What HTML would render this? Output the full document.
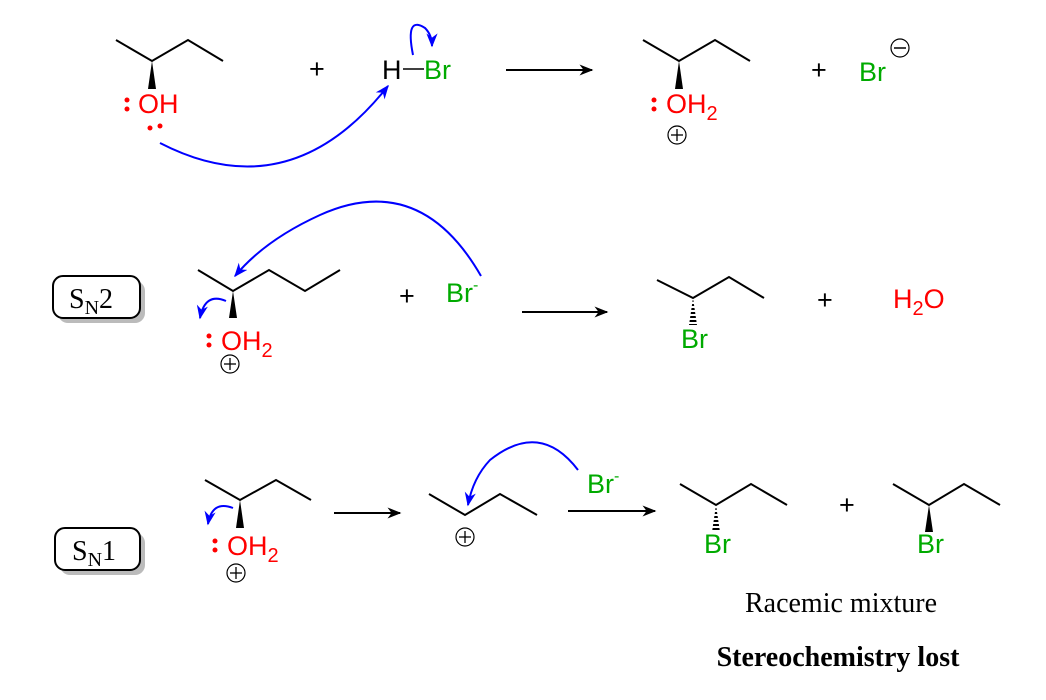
<!DOCTYPE html>
<html><head><meta charset="utf-8"><style>
body{margin:0;background:#fff}
svg{display:block}
.s{font-family:"Liberation Sans",sans-serif;font-size:27px}
.r{fill:#f00}.g{fill:#0a0}
.b{stroke:#000;stroke-width:2;fill:none}
.bl{stroke:#00f;stroke-width:2;fill:none}
.t{font-family:"Liberation Serif",serif;font-size:28px}
.sub{font-size:20px}
</style></head><body>
<svg width="1046" height="700" viewBox="0 0 1046 700">
<defs>
<marker id="a" viewBox="0 0 10 10" refX="9" refY="5" markerWidth="7" markerHeight="7" orient="auto"><path d="M0,1 L10,5 L0,9 L3,5z" fill="#000"/></marker>
<marker id="bb" viewBox="0 0 10 10" refX="9" refY="5" markerWidth="7" markerHeight="7" orient="auto"><path d="M0,1 L10,5 L0,9 L3,5z" fill="#00f"/></marker>
<pattern id="h" width="2" height="4" patternUnits="userSpaceOnUse"><rect width="2" height="2" fill="#000"/></pattern>
</defs>
<!-- Row 1 -->
<polyline class="b" points="116,40 152,61 188,40 223,61"/>
<polygon points="152,61 148,89 156,89" fill="#000"/>
<circle cx="127" cy="100" r="2.5" fill="#f00"/><circle cx="127" cy="109" r="2.5" fill="#f00"/>
<text class="s r" x="138" y="113">OH</text>
<circle cx="150" cy="128" r="2.5" fill="#f00"/><circle cx="160" cy="126" r="2.5" fill="#f00"/>
<text class="s" x="309" y="78">+</text>
<text class="s" x="382" y="79">H</text><line class="b" x1="403" y1="69" x2="424" y2="69" style="stroke-width:1.5"/><text class="s g" x="424" y="79">Br</text>
<line class="b" x1="506" y1="70" x2="592" y2="70" marker-end="url(#a)"/>
<path class="bl" d="M160,143 Q290,210 388,86" marker-end="url(#bb)"/>
<path class="bl" d="M413,55 Q405,15 425,28 Q432,35 432,46" marker-end="url(#bb)"/>
<polyline class="b" points="643,40 679,61 715,40 750,61"/>
<polygon points="679,61 675,89 683,89" fill="#000"/>
<circle cx="654" cy="100" r="2.5" fill="#f00"/><circle cx="654" cy="109" r="2.5" fill="#f00"/>
<text class="s r" x="666" y="113">OH<tspan dy="7" class="sub">2</tspan></text>
<circle cx="677" cy="135" r="9" class="b" style="stroke-width:1.2"/><line x1="671" y1="135" x2="683" y2="135" stroke="#000" stroke-width="1.3"/><line x1="677" y1="129" x2="677" y2="141" stroke="#000" stroke-width="1.3"/>
<text class="s" x="811" y="79">+</text>
<text class="s g" x="859" y="81">Br</text>
<circle cx="900" cy="48" r="9" class="b" style="stroke-width:1.2"/><line x1="894" y1="48" x2="906" y2="48" stroke="#000" stroke-width="1.5"/>
<!-- Row 2 -->
<rect x="58" y="281" width="87" height="42" rx="10" fill="#bbb"/>
<rect x="53" y="276" width="87" height="42" rx="10" fill="#fff" stroke="#000" stroke-width="2"/>
<text class="t" x="69" y="308">S<tspan dy="6" style="font-size:20px">N</tspan><tspan dy="-6">2</tspan></text>
<polyline class="b" points="198,270 233,291 269,270 305,291 340,270"/>
<polygon points="233,291 229,318 237,318" fill="#000"/>
<circle cx="209" cy="336" r="2.5" fill="#f00"/><circle cx="209" cy="345" r="2.5" fill="#f00"/>
<text class="s r" x="221" y="350">OH<tspan dy="7" class="sub">2</tspan></text>
<circle cx="230" cy="364" r="9" class="b" style="stroke-width:1.2"/><line x1="224" y1="364" x2="236" y2="364" stroke="#000" stroke-width="1.3"/><line x1="230" y1="358" x2="230" y2="370" stroke="#000" stroke-width="1.3"/>
<text class="s" x="399" y="305">+</text>
<text class="s g" x="446" y="302">Br<tspan dy="-12" style="font-size:16px">-</tspan></text>
<path class="bl" d="M481,276 Q420,170 320,215 Q265,240 235,276" marker-end="url(#bb)"/>
<path class="bl" d="M226,301 Q205,292 200,318" marker-end="url(#bb)"/>
<line class="b" x1="522" y1="312" x2="607" y2="312" marker-end="url(#a)"/>
<polyline class="b" points="657,280 693,298 729,277 764,298"/>
<polygon points="693,298 689,325 697,325" fill="url(#h)"/>
<text class="s g" x="681" y="348">Br</text>
<text class="s" x="817" y="309">+</text>
<text class="s r" x="893" y="308">H<tspan dy="7" class="sub">2</tspan><tspan dy="-7">O</tspan></text>
<!-- Row 3 -->
<rect x="60" y="533" width="85" height="42" rx="10" fill="#bbb"/>
<rect x="55" y="528" width="85" height="42" rx="10" fill="#fff" stroke="#000" stroke-width="2"/>
<text class="t" x="72" y="560">S<tspan dy="6" style="font-size:20px">N</tspan><tspan dy="-6">1</tspan></text>
<polyline class="b" points="205,480 240,500 276,480 311,500"/>
<polygon points="240,500 236,528 244,528" fill="#000"/>
<circle cx="215" cy="541" r="2.5" fill="#f00"/><circle cx="215" cy="550" r="2.5" fill="#f00"/>
<text class="s r" x="227" y="555">OH<tspan dy="7" class="sub">2</tspan></text>
<circle cx="236" cy="573" r="9" class="b" style="stroke-width:1.2"/><line x1="230" y1="573" x2="242" y2="573" stroke="#000" stroke-width="1.3"/><line x1="236" y1="567" x2="236" y2="579" stroke="#000" stroke-width="1.3"/>
<path class="bl" d="M233,508 Q212,500 208,524" marker-end="url(#bb)"/>
<line class="b" x1="334" y1="513" x2="400" y2="513" marker-end="url(#a)"/>
<polyline class="b" points="429,494 465,515 500,494 537,515"/>
<circle cx="465" cy="537" r="9" class="b" style="stroke-width:1.2"/><line x1="459" y1="537" x2="471" y2="537" stroke="#000" stroke-width="1.3"/><line x1="465" y1="531" x2="465" y2="543" stroke="#000" stroke-width="1.3"/>
<path class="bl" d="M578,470 Q540,420 490,460 Q473,478 468,505" marker-end="url(#bb)"/>
<text class="s g" x="587" y="493">Br<tspan dy="-12" style="font-size:16px">-</tspan></text>
<line class="b" x1="568" y1="511" x2="655" y2="511" marker-end="url(#a)"/>
<polyline class="b" points="680,484 716,505 751,484 787,505"/>
<polygon points="716,505 712,532 720,532" fill="url(#h)"/>
<text class="s g" x="704" y="553">Br</text>
<text class="s" x="839" y="514">+</text>
<polyline class="b" points="893,484 929,505 964,484 1000,505"/>
<polygon points="929,505 925,532 933,532" fill="#000"/>
<text class="s g" x="917" y="553">Br</text>
<text class="t" x="841" y="612" text-anchor="middle">Racemic mixture</text>
<text class="t" x="838" y="666" text-anchor="middle" font-weight="bold">Stereochemistry lost</text>
</svg>
</body></html>
